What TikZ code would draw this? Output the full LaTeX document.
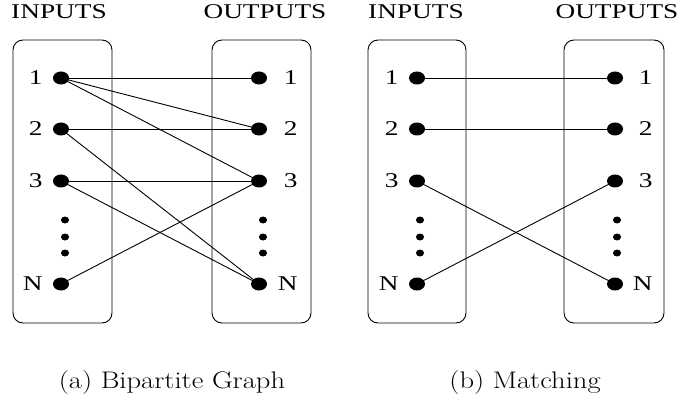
\documentclass[tikz,border=0pt]{standalone}
\usepackage{fontspec}
\newfontfamily\tms{Liberation Serif}
\usetikzlibrary{shapes.geometric}
\begin{document}
\begin{tikzpicture}[x=1pt,y=-1pt,
  line width=0.9pt,
  bigdot/.style={shape=ellipse,fill=black,draw=none,minimum width=16pt,minimum height=13pt,inner sep=0pt},
  smalldot/.style={shape=ellipse,fill=black,draw=none,minimum width=8pt,minimum height=7pt,inner sep=0pt},
  panel/.style={draw,rounded corners=10pt,line width=0.9pt},
  title/.style={font=\tms\fontsize{21}{21}\selectfont,inner sep=0pt},
  lbl/.style={font=\tms\fontsize{21}{21}\selectfont,inner sep=0pt},
  captext/.style={font=\fontsize{24}{24}\selectfont,inner sep=0pt,anchor=base},
  conn/.style={line width=0.9pt}]
\useasboundingbox (0,0) rectangle (682,398);

% ---------- panel (a) ----------
\draw[panel] (13,40) rectangle (112,323);
\draw[panel] (212,40) rectangle (311,323);
\node[title] (ta1) at (59,12) {\scalebox{1.3}[1]{INPUTS}};
\node[title] (ta2) at (265,12) {\scalebox{1.3}[1]{OUTPUTS}};

\foreach \n/\y in {1/78,2/129,3/181,N/284}{
  \node[bigdot] (ai\n) at (61,\y) {};
  \node[bigdot] (ao\n) at (259,\y) {};
  \node[lbl,anchor=east] (ail\n) at (43,\y) {\scalebox{1.3}[1]{\n}};
  \node[lbl,anchor=east] (aol\n) at (298,\y) {\scalebox{1.3}[1]{\n}};
}
\foreach \k/\y in {1/220,2/237,3/253}{
  \node[smalldot] (aiv\k) at (65,\y) {};
  \node[smalldot] (aov\k) at (263,\y) {};
}
\draw[conn] (ai1.center) -- (ao1.center);
\draw[conn] (ai1.center) -- (ao2.center);
\draw[conn] (ai1.center) -- (ao3.center);
\draw[conn] (ai2.center) -- (ao2.center);
\draw[conn] (ai2.center) -- (aoN.center);
\draw[conn] (ai3.center) -- (ao3.center);
\draw[conn] (ai3.center) -- (aoN.center);
\draw[conn] (aiN.center) -- (ao3.center);
\node[captext] (capa) at (172,388) {\scalebox{1.19}[1]{(a) Bipartite Graph}};

% ---------- panel (b) ----------
\draw[panel] (368,40) rectangle (466,323);
\draw[panel] (564,40) rectangle (664,323);
\node[title] (tb1) at (416,12) {\scalebox{1.3}[1]{INPUTS}};
\node[title] (tb2) at (617,12) {\scalebox{1.3}[1]{OUTPUTS}};

\foreach \n/\y in {1/78,2/129,3/181,N/284}{
  \node[bigdot] (bi\n) at (417,\y) {};
  \node[bigdot] (bo\n) at (615,\y) {};
  \node[lbl,anchor=east] (bil\n) at (399,\y) {\scalebox{1.3}[1]{\n}};
  \node[lbl,anchor=east] (bol\n) at (653,\y) {\scalebox{1.3}[1]{\n}};
}
\foreach \k/\y in {1/220,2/237,3/253}{
  \node[smalldot] (biv\k) at (420,\y) {};
  \node[smalldot] (bov\k) at (617,\y) {};
}
\draw[conn] (bi1.center) -- (bo1.center);
\draw[conn] (bi2.center) -- (bo2.center);
\draw[conn] (bi3.center) -- (boN.center);
\draw[conn] (biN.center) -- (bo3.center);
\node[captext] (capb) at (525,388) {\scalebox{1.19}[1]{(b) Matching}};
\end{tikzpicture}
\end{document}
